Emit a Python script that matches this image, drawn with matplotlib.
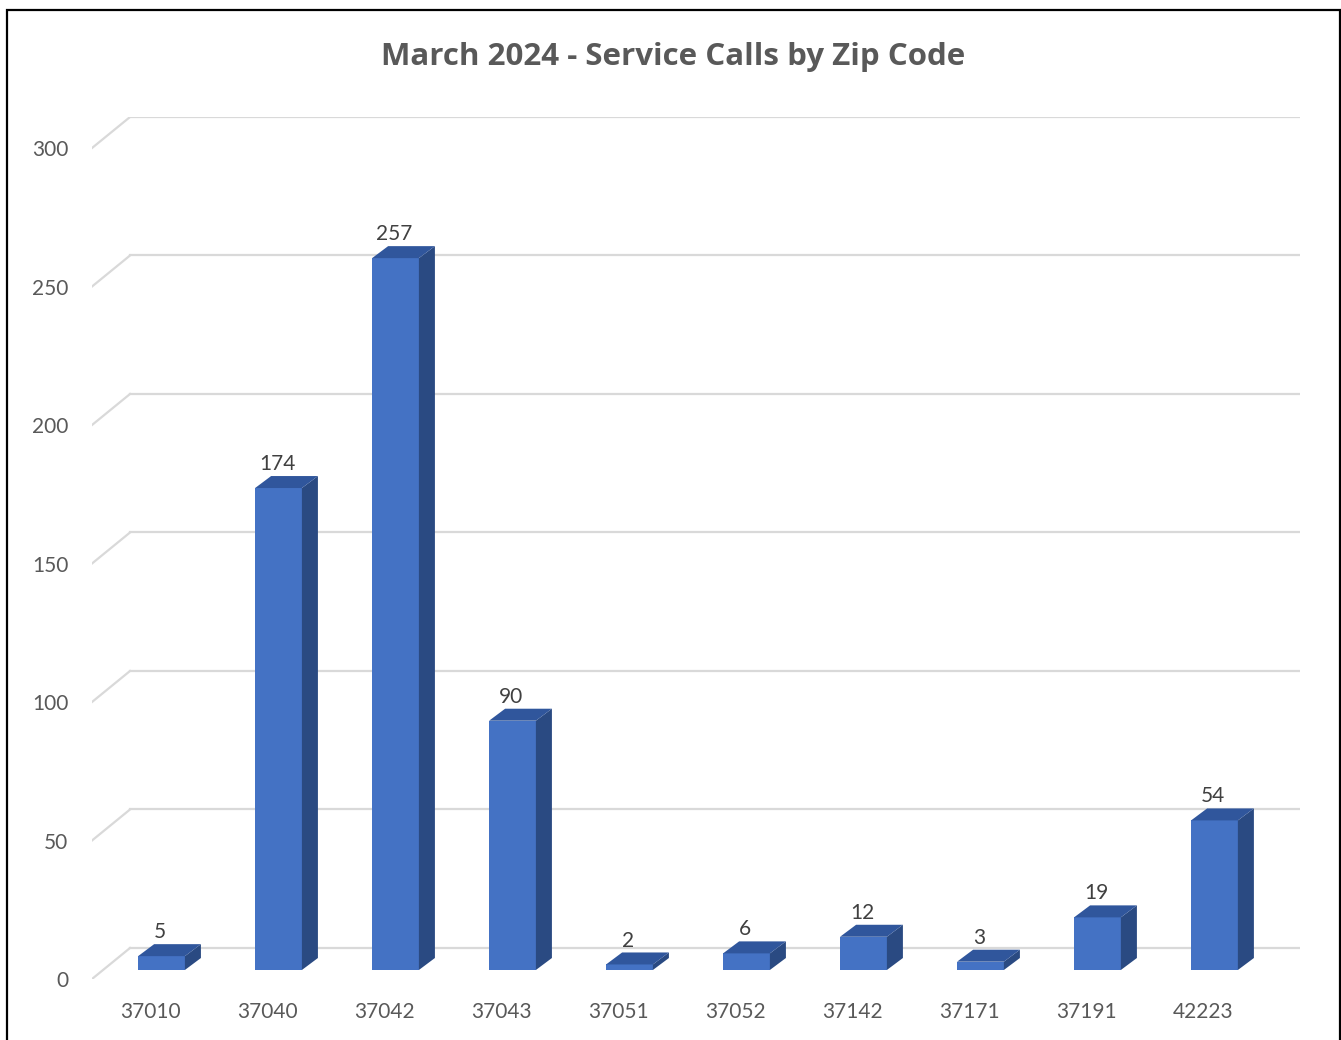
import numpy as np
import matplotlib
matplotlib.use('Agg')
import matplotlib.pyplot as plt
from matplotlib.patches import Polygon, Rectangle

plt.rcParams['font.family'] = ['Lato', 'DejaVu Sans']

zips = ['37010', '37040', '37042', '37043', '37051', '37052', '37142', '37171', '37191', '42223']
calls = [5, 174, 257, 90, 2, 6, 12, 3, 19, 54]
yticks = [0, 50, 100, 150, 200, 250, 300]

# 3d look: depth of the floor/back wall and of the bars (data units)
DX, DY = 0.325, 11.2        # front plane -> back wall
FX, FY = 0.094, 3.25        # front plane -> bar front face
BX, BY = 0.137, 4.33        # bar depth
W = 0.40

front = '#4472C4'
side = '#2A4A82'
top = '#30569C'
grid = '#D9D9D9'
txt = '#595959'

fig = plt.figure(figsize=(13.41, 10.4), dpi=100)
ax = fig.add_axes([92/1341, 1 - 979/1040, 1208/1341, 862/1040])
ax.set_xlim(-0.5, 9.5 + DX)
ax.set_ylim(0, 300 + DY)
for s in ax.spines.values():
    s.set_visible(False)

# back wall grid + left diagonals
for t in yticks:
    ax.plot([-0.5, -0.5 + DX], [t, t + DY], color=grid, lw=1.6, zorder=1)
    ax.plot([-0.5 + DX, 9.5 + DX], [t + DY, t + DY], color=grid, lw=1.6, zorder=1)

x = np.arange(len(zips))
ax.bar(x + FX, calls, width=W, bottom=FY, color=front, zorder=3)
for xi, v in zip(x, calls):
    l, r = xi + FX - W/2, xi + FX + W/2
    b, h = FY, FY + v
    ax.add_patch(Polygon([(r, b), (r + BX, b + BY), (r + BX, h + BY), (r, h)],
                         closed=True, facecolor=side, edgecolor='none', zorder=3))
    ax.add_patch(Polygon([(l, h), (r, h), (r + BX, h + BY), (l + BX, h + BY)],
                         closed=True, facecolor=top, edgecolor='none', zorder=3))
    ax.text(xi + FX - 0.01, h + BY + 0.7, str(v), ha='center', va='bottom',
            fontsize=15, color='#404040', zorder=4)

ax.set_xticks(x)
ax.set_xticklabels(zips)
ax.set_yticks(yticks)
ax.set_yticklabels([str(t) for t in yticks])
ax.tick_params(axis='both', length=0, labelsize=15, labelcolor=txt)
ax.tick_params(axis='x', pad=16.5)
ax.tick_params(axis='y', pad=17)

fig.text(673/1341, 1 - 57/1040, 'March 2024 - Service Calls by Zip Code',
         ha='center', va='center', fontsize=22.5, fontweight='bold', color=txt,
         family=['Open Sans', 'DejaVu Sans'])

fig.patches.append(Rectangle((7/1341, -0.02), 1333/1341, 1.02 - 10/1040,
                             transform=fig.transFigure, fill=False,
                             edgecolor='black', lw=1.6))

fig.savefig('out.png', dpi=100)
